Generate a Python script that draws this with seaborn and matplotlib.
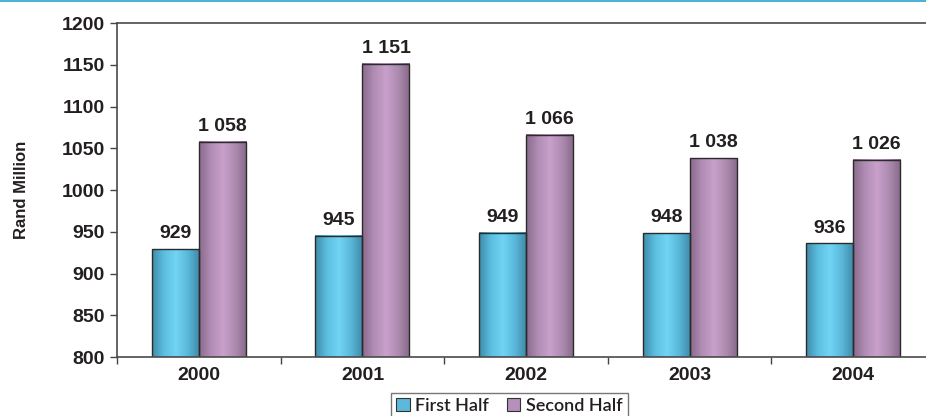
#! /usr/bin/env python3

import matplotlib
matplotlib.use('Agg')

import matplotlib.pyplot as plt
import numpy as np
import pandas as pd
import seaborn as sns
from matplotlib.colors import LinearSegmentedColormap
from matplotlib.lines import Line2D
from matplotlib.patches import Patch

years = ['2000', '2001', '2002', '2003', '2004']
halves = ['First Half', 'Second Half']
first_half = [929, 945, 949, 948, 936]
second_half = [1058, 1151, 1066, 1038, 1036]
first_labels = ['929', '945', '949', '948', '936']
second_labels = ['1 058', '1 151', '1 066', '1 038', '1 026']
y_ticks = [800, 850, 900, 950, 1000, 1050, 1100, 1150, 1200]

data = pd.DataFrame({
    'Year': years * 2,
    'Half': [halves[0]] * len(years) + [halves[1]] * len(years),
    'Value': first_half + second_half,
})

sns.set_theme(style='white')
plt.rcParams['font.family'] = ['Liberation Sans', 'DejaVu Sans']

legend_colors = ['#5cb9dc', '#b68fbb']
gradients = [
    LinearSegmentedColormap.from_list('cy', ['#3f8aa8', '#5cbfe0', '#72d4f4', '#5ab8da', '#3f88a6']),
    LinearSegmentedColormap.from_list('pu', ['#8a6a8c', '#b08db4', '#c9a0cc', '#ad8cb0', '#86688a']),
]
text_color = '#231f20'
fs = 14

fig = plt.figure(figsize=(9.26, 4.16), dpi=100)
ax = fig.add_axes([0.1264, 0.1418, 0.8834, 0.8029])

sns.barplot(data=data, x='Year', y='Value', hue='Half', hue_order=halves,
            palette=legend_colors, width=0.575, edgecolor='#2b2b2b',
            linewidth=1.0, legend=False, ax=ax)

ax.set_xlim(-0.5, 4.5)
ax.set_ylim(800, 1200)
y_floor = ax.get_ylim()[0]

# gradient fill clipped to each bar
grad = np.linspace(0, 1, 256).reshape(1, -1)
for cont, cmap, labels in zip(ax.containers, gradients, [first_labels, second_labels]):
    for bar, lab in zip(cont, labels):
        x0, w, h = bar.get_x(), bar.get_width(), bar.get_height()
        ax.imshow(grad, cmap=cmap, aspect='auto', extent=[x0, x0 + w, y_floor, h],
                  zorder=bar.get_zorder() - 0.1, interpolation='bilinear')
        bar.set_facecolor('none')
        ax.annotate(lab, (x0 + w / 2, h), xytext=(0, 5), textcoords='offset points',
                    ha='center', va='bottom', fontsize=fs, fontweight='bold',
                    color=text_color)

ax.set_xlim(-0.5, 4.5)
ax.set_ylim(800, 1200)
ax.set_yticks(y_ticks)
ax.set_yticklabels([str(t) for t in y_ticks])
ax.set_xticks(range(len(years)))
ax.set_xticklabels(years)
ax.set_xticks(np.arange(-0.5, len(years), 1), minor=True)
ax.tick_params(axis='x', which='major', length=0, pad=7, labelsize=fs, colors=text_color)
ax.tick_params(axis='x', which='minor', length=5, width=1, direction='out', color='#444444', bottom=True)
ax.tick_params(axis='y', length=5, width=1, direction='out', color='#444444', left=True,
               pad=4, labelsize=fs, labelcolor=text_color)
for t in ax.get_xticklabels() + ax.get_yticklabels():
    t.set_fontweight('bold')

ax.set_xlabel('')
ax.set_ylabel('Rand Million', fontsize=12, fontweight='bold', color=text_color)
ax.yaxis.set_label_coords(-0.108, 0.5)

for s in ['left', 'bottom', 'top']:
    ax.spines[s].set_color('#4a4a4a')
    ax.spines[s].set_linewidth(1.2)
ax.spines['right'].set_visible(False)

handles = [Patch(facecolor=c, edgecolor='#333333', linewidth=0.8) for c in legend_colors]
leg = fig.legend(handles, halves, loc='lower center', bbox_to_anchor=(0.55, -0.03),
                 ncol=2, frameon=True, fancybox=False,
                 handlelength=0.75, handleheight=0.75, handletextpad=0.3,
                 columnspacing=1.0, borderpad=0.3,
                 prop={'family': ['Lato', 'DejaVu Sans'], 'size': 13, 'weight': 'semibold'})
leg.get_frame().set_edgecolor('#555555')
leg.get_frame().set_linewidth(1.0)
for t in leg.get_texts():
    t.set_color(text_color)

# thin teal rule across the top of the page
fig.add_artist(Line2D([0, 1], [0.997, 0.997], color='#2ba3c9', linewidth=1.2,
                      transform=fig.transFigure))

plt.savefig('out.png', dpi=100)
